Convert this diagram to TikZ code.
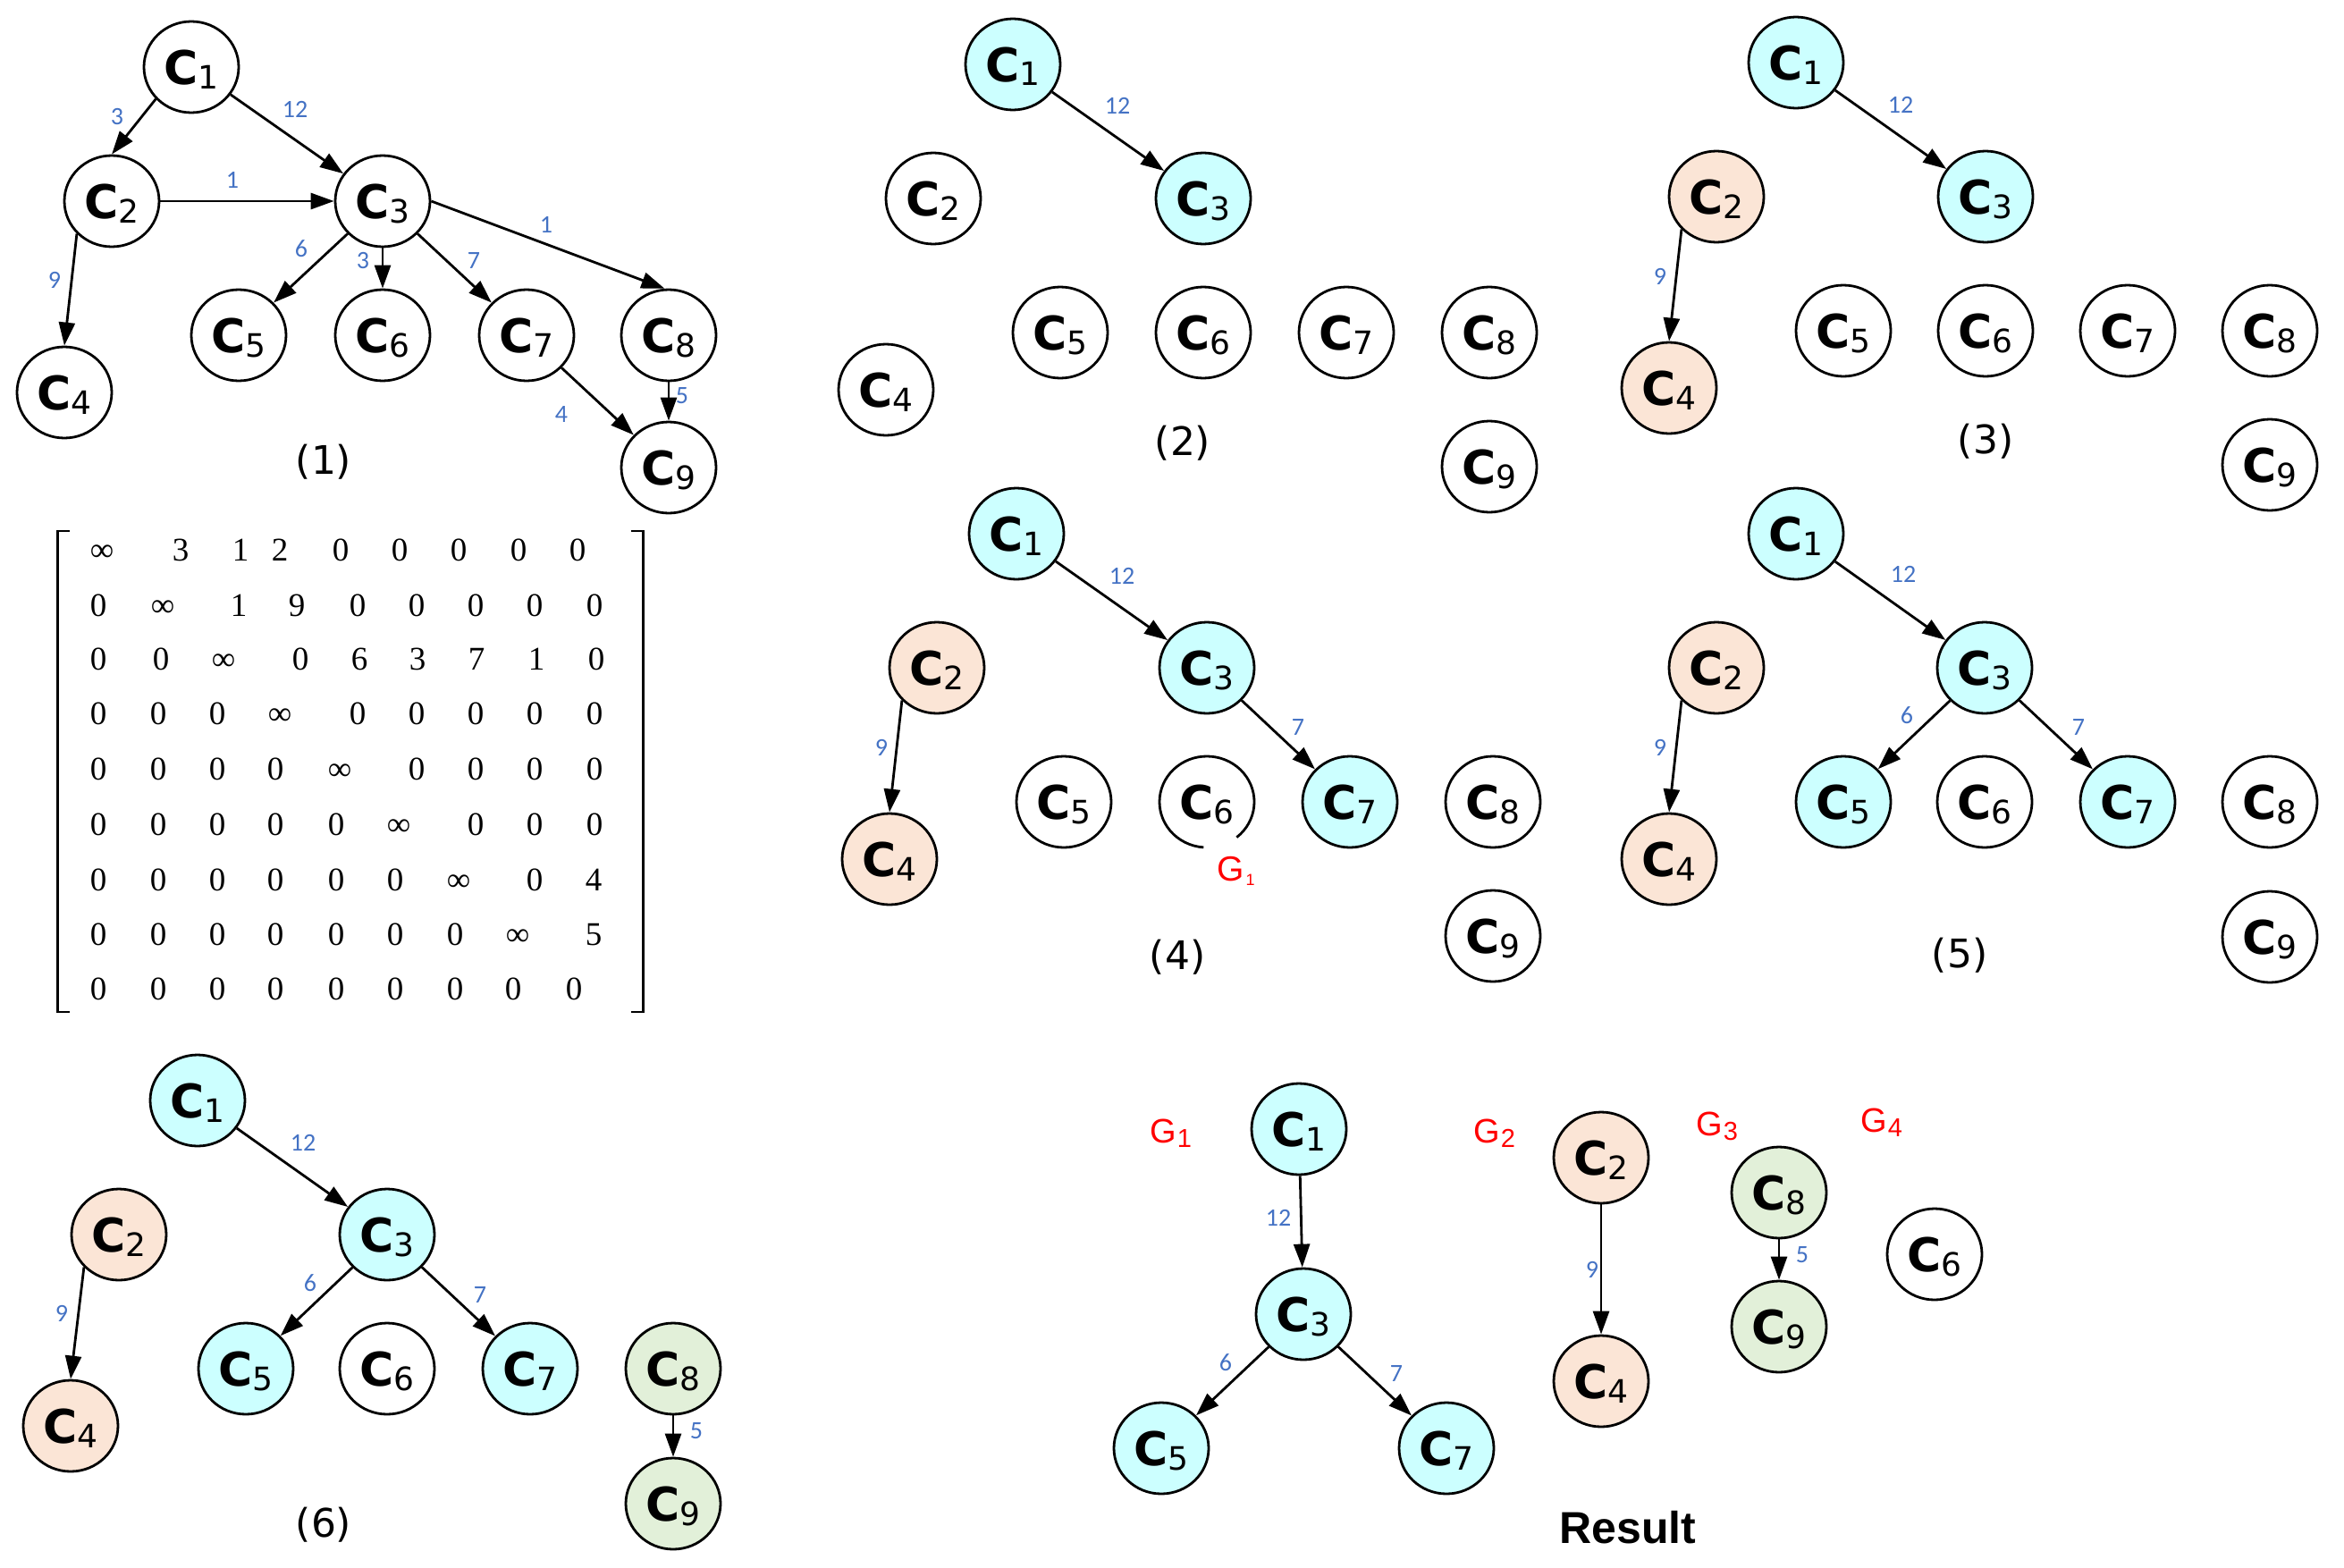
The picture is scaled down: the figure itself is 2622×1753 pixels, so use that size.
\documentclass[tikz,border=0pt]{standalone}
\usepackage{fontspec}
\usetikzlibrary{shapes.geometric,arrows.meta}
\newfontfamily\lblfont{DejaVu Sans}
\newfontfamily\wfont{Carlito}
\newfontfamily\gfont{Liberation Sans}
\newfontfamily\mfont{Liberation Serif}
\newfontfamily\pfont{DejaVu Sans}
\definecolor{cyanc}{RGB}{204,255,255}
\definecolor{peachc}{RGB}{251,229,214}
\definecolor{greenc}{RGB}{226,240,217}
\definecolor{wblue}{RGB}{68,114,196}
\newcommand{\Cn}[1]{{\fontsize{52pt}{52pt}\selectfont\bfseries C}\raisebox{-5pt}{\fontsize{36pt}{36pt}\selectfont #1}}
\newcommand{\Gres}[1]{G\kern1pt\raisebox{-5.5pt}{\fontsize{29pt}{29pt}\selectfont #1}}
\tikzset{
  cn/.style={ellipse, draw, line width=2.8pt, minimum width=106pt, minimum height=102pt,
    inner sep=0pt, text height=38pt, text depth=0pt, font=\lblfont, fill=white},
  cy/.style={cn, fill=cyanc},
  pe/.style={cn, fill=peachc},
  gr/.style={cn, fill=greenc},
  wl/.style={text=wblue, font=\wfont\fontsize{28pt}{28pt}\selectfont, inner sep=0pt},
  ed/.style={line width=2.8pt, -{Triangle[length=26pt,width=18pt]}},
  pl/.style={font=\pfont\fontsize{44pt}{44pt}\selectfont, inner sep=0pt},
  mx/.style={font=\mfont\fontsize{37pt}{37pt}\selectfont, inner sep=0pt, anchor=base},
  gl/.style={text=red, font=\gfont\fontsize{38pt}{38pt}\selectfont, inner sep=0pt, anchor=base west},
}
\begin{document}
\begin{tikzpicture}[x=1pt,y=-1pt]
\useasboundingbox (0,0) rectangle (2622,1753);

% ---------- Panel (1)
\begin{scope}[shift={(214,75)}]
\node[cn] (p1c1) at (0,0) {\Cn{1}};
\node[cn] (p1c2) at (-89,150) {\Cn{2}};
\node[cn] (p1c3) at (214,150) {\Cn{3}};
\node[cn] (p1c4) at (-142,364) {\Cn{4}};
\node[cn] (p1c5) at (53,300) {\Cn{5}};
\node[cn] (p1c6) at (214,300) {\Cn{6}};
\node[cn] (p1c7) at (375,300) {\Cn{7}};
\node[cn] (p1c8) at (534,300) {\Cn{8}};
\node[cn] (p1c9) at (534,448) {\Cn{9}};
\node[wl] (p1w3a) at (-83,56) {3};
\node[wl] (p1w12) at (116,47) {12};
\node[wl] (p1w1a) at (46,126) {1};
\node[wl] (p1w1b) at (397,176) {1};
\node[wl] (p1w6) at (123,203) {6};
\node[wl] (p1w3b) at (192,217) {3};
\node[wl] (p1w7) at (316,217) {7};
\node[wl] (p1w9) at (-153,238) {9};
\node[wl] (p1w4) at (414,389) {4};
\node[wl] (p1w5) at (549,368) {5};
\end{scope}
\draw[ed] (p1c1.-138) -- (p1c2.north);
\draw[ed] (p1c1) -- (p1c3);
\draw[ed] (p1c2) -- (p1c3);
\draw[ed] (p1c2.-137) -- (p1c4.north);
\draw[ed] (p1c3) -- (p1c5);
\draw[ed] (p1c3) -- (p1c6);
\draw[ed] (p1c3) -- (p1c7);
\draw[ed] (p1c3.east) -- (p1c8.95);
\draw[ed] (p1c7) -- (p1c9);
\draw[ed] (p1c8) -- (p1c9);
\node[pl] (pl1) at (362,517) {(1)};

% ---------- Matrix
\draw[line width=2.2pt] (78,594) -- (64.5,594) -- (64.5,1132) -- (78,1132);
\draw[line width=2.2pt] (706,594) -- (719.5,594) -- (719.5,1132) -- (706,1132);
\foreach \xx/\t [count=\c] in {114/∞,202/3,269/1,313/2,381/0,447/0,513/0,580/0,646/0}
  {\node[mx] (m1-\c) at (\xx,627.5) {\t};}
\foreach \xx/\t [count=\c] in {110/0,182/∞,267/1,332/9,400/0,466/0,532/0,598/0,665/0}
  {\node[mx] (m2-\c) at (\xx,689.5) {\t};}
\foreach \xx/\t [count=\c] in {110/0,180/0,250/∞,336/0,402/6,467/3,533/7,600/1,667/0}
  {\node[mx] (m3-\c) at (\xx,749.5) {\t};}
\foreach \xx/\t [count=\c] in {110/0,177/0,243/0,313/∞,400/0,466/0,532/0,598/0,665/0}
  {\node[mx] (m4-\c) at (\xx,810.5) {\t};}
\foreach \xx/\t [count=\c] in {110/0,177/0,243/0,308/0,380/∞,466/0,532/0,598/0,665/0}
  {\node[mx] (m5-\c) at (\xx,872.5) {\t};}
\foreach \xx/\t [count=\c] in {110/0,177/0,243/0,308/0,376/0,446/∞,532/0,598/0,665/0}
  {\node[mx] (m6-\c) at (\xx,934.5) {\t};}
\foreach \xx/\t [count=\c] in {110/0,177/0,243/0,308/0,376/0,442/0,513/∞,598/0,664/4}
  {\node[mx] (m7-\c) at (\xx,996.5) {\t};}
\foreach \xx/\t [count=\c] in {110/0,177/0,243/0,308/0,376/0,442/0,509/0,579/∞,664/5}
  {\node[mx] (m8-\c) at (\xx,1057.5) {\t};}
\foreach \xx/\t [count=\c] in {110/0,177/0,243/0,308/0,376/0,442/0,509/0,574/0,642/0}
  {\node[mx] (m9-\c) at (\xx,1118.5) {\t};}

% ---------- Panel (2)
\begin{scope}[shift={(1133,72)}]
\node[cy] (p2c1) at (0,0) {\Cn{1}};
\node[cn] (p2c2) at (-89,150) {\Cn{2}};
\node[cy] (p2c3) at (213,150) {\Cn{3}};
\node[cn] (p2c4) at (-142,364) {\Cn{4}};
\node[cn] (p2c5) at (53,300) {\Cn{5}};
\node[cn] (p2c6) at (213,300) {\Cn{6}};
\node[cn] (p2c7) at (373,300) {\Cn{7}};
\node[cn] (p2c8) at (533,300) {\Cn{8}};
\node[cn] (p2c9) at (533,450) {\Cn{9}};
\node[wl] (p2w12) at (117,46) {12};
\end{scope}
\draw[ed] (p2c1) -- (p2c3);
\node[pl] (pl2) at (1323,496) {(2)};

% ---------- Panel (3)
\begin{scope}[shift={(2009,70)}]
\node[cy] (p3c1) at (0,0) {\Cn{1}};
\node[pe] (p3c2) at (-89,150) {\Cn{2}};
\node[cy] (p3c3) at (212,150) {\Cn{3}};
\node[pe] (p3c4) at (-142,364) {\Cn{4}};
\node[cn] (p3c5) at (53,300) {\Cn{5}};
\node[cn] (p3c6) at (212,300) {\Cn{6}};
\node[cn] (p3c7) at (371,300) {\Cn{7}};
\node[cn] (p3c8) at (530,300) {\Cn{8}};
\node[cn] (p3c9) at (530,450) {\Cn{9}};
\node[wl] (p3w12) at (117,47) {12};
\node[wl] (p3w9) at (-152,239) {9};
\end{scope}
\draw[ed] (p3c1) -- (p3c3);
\draw[ed] (p3c2.-137) -- (p3c4.north);
\node[pl] (pl3) at (2221,494) {(3)};

% ---------- Panel (4)
\begin{scope}[shift={(1137,597)}]
\node[cy] (p4c1) at (0,0) {\Cn{1}};
\node[pe] (p4c2) at (-89,150) {\Cn{2}};
\node[cy] (p4c3) at (213,150) {\Cn{3}};
\node[pe] (p4c4) at (-142,364) {\Cn{4}};
\node[cn] (p4c5) at (53,300) {\Cn{5}};
\node[cn, draw=none, fill=none] (p4c6) at (213,300) {\Cn{6}};
\node[cy] (p4c7) at (373,300) {\Cn{7}};
\node[cn] (p4c8) at (533,300) {\Cn{8}};
\node[cn] (p4c9) at (533,450) {\Cn{9}};
\node[wl] (p4w12) at (118,47) {12};
\node[wl] (p4w9) at (-151,239) {9};
\node[wl] (p4w7) at (315,217) {7};
\end{scope}
\draw[line width=2.8pt] (p4c6.center) ++(-51:53pt and 51pt) arc[start angle=-51, end angle=266, x radius=53pt, y radius=51pt];
\draw[ed] (p4c1) -- (p4c3);
\draw[ed] (p4c2.-137) -- (p4c4.north);
\draw[ed] (p4c3) -- (p4c7);
\node[text=red, font=\gfont\fontsize{39pt}{39pt}\selectfont, inner sep=0pt, anchor=base west] (p4g1) at (1361,985) {G\kern2pt\raisebox{-5pt}{\fontsize{18pt}{18pt}\selectfont 1}};
\node[pl] (pl4) at (1317,1071) {(4)};

% ---------- Panel (5)
\begin{scope}[shift={(2009,597)}]
\node[cy] (p5c1) at (0,0) {\Cn{1}};
\node[pe] (p5c2) at (-89,150) {\Cn{2}};
\node[cy] (p5c3) at (211,150) {\Cn{3}};
\node[pe] (p5c4) at (-142,364) {\Cn{4}};
\node[cy] (p5c5) at (53,300) {\Cn{5}};
\node[cn] (p5c6) at (211,300) {\Cn{6}};
\node[cy] (p5c7) at (371,300) {\Cn{7}};
\node[cn] (p5c8) at (530,300) {\Cn{8}};
\node[cn] (p5c9) at (530,451) {\Cn{9}};
\node[wl] (p5w12) at (120,45) {12};
\node[wl] (p5w9) at (-152,239) {9};
\node[wl] (p5w6) at (124,203) {6};
\node[wl] (p5w7) at (316,217) {7};
\end{scope}
\draw[ed] (p5c1) -- (p5c3);
\draw[ed] (p5c2.-137) -- (p5c4.north);
\draw[ed] (p5c3) -- (p5c5);
\draw[ed] (p5c3) -- (p5c7);
\node[pl] (pl5) at (2192,1069) {(5)};

% ---------- Panel (6)
\begin{scope}[shift={(221,1231)}]
\node[cy] (p6c1) at (0,0) {\Cn{1}};
\node[pe] (p6c2) at (-88,150) {\Cn{2}};
\node[cy] (p6c3) at (212,150) {\Cn{3}};
\node[pe] (p6c4) at (-142,364) {\Cn{4}};
\node[cy] (p6c5) at (54,300) {\Cn{5}};
\node[cn] (p6c6) at (212,300) {\Cn{6}};
\node[cy] (p6c7) at (372,300) {\Cn{7}};
\node[gr] (p6c8) at (532,300) {\Cn{8}};
\node[gr] (p6c9) at (532,451) {\Cn{9}};
\node[wl] (p6w12) at (118,47) {12};
\node[wl] (p6w9) at (-152,238) {9};
\node[wl] (p6w6) at (126,204) {6};
\node[wl] (p6w7) at (316,217) {7};
\node[wl] (p6w5) at (558,370) {5};
\end{scope}
\draw[ed] (p6c1) -- (p6c3);
\draw[ed] (p6c2.-137) -- (p6c4.north);
\draw[ed] (p6c3) -- (p6c5);
\draw[ed] (p6c3) -- (p6c7);
\draw[ed] (p6c8) -- (p6c9);
\node[pl] (pl6) at (362,1706) {(6)};

% ---------- Result
\node[cy] (r1) at (1453,1263) {\Cn{1}};
\node[cy] (r3) at (1458,1470) {\Cn{3}};
\node[cy] (r5) at (1299,1620) {\Cn{5}};
\node[cy] (r7) at (1618,1620) {\Cn{7}};
\node[pe] (r2) at (1791,1295) {\Cn{2}};
\node[pe] (r4) at (1791,1545) {\Cn{4}};
\node[gr] (r8) at (1990,1334) {\Cn{8}};
\node[gr] (r9) at (1990,1484) {\Cn{9}};
\node[cn] (r6) at (2164,1403) {\Cn{6}};
\draw[ed] (r1) -- (r3);
\draw[ed] (r3) -- (r5);
\draw[ed] (r3) -- (r7);
\draw[ed] (r2) -- (r4);
\draw[ed] (r8) -- (r9);
\node[wl] (rw12) at (1430,1362) {12};
\node[wl] (rw9) at (1781,1420) {9};
\node[wl] (rw5) at (2016,1404) {5};
\node[wl] (rw6) at (1371,1524) {6};
\node[wl] (rw7) at (1562,1536) {7};
\node[gl] (rg1) at (1286,1278) {\Gres{1}};
\node[gl] (rg2) at (1648,1278) {\Gres{2}};
\node[gl] (rg3) at (1897,1270) {\Gres{3}};
\node[gl] (rg4) at (2081,1266) {\Gres{4}};
\node[font=\gfont\bfseries\fontsize{50pt}{50pt}\selectfont, inner sep=0pt] (res) at (1821,1709) {Result};
\end{tikzpicture}
\end{document}
